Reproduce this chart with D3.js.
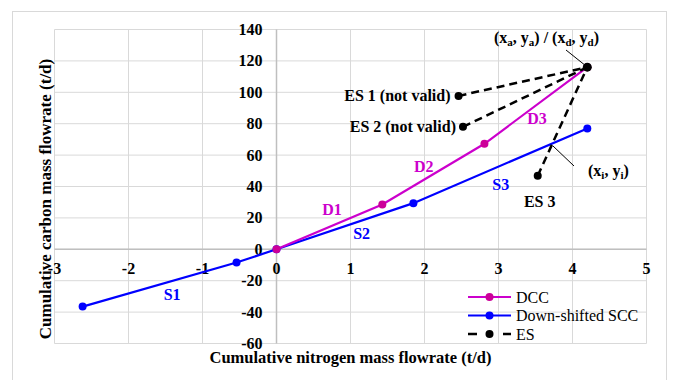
<!DOCTYPE html>
<html>
<head>
  <meta charset="utf-8">
  <title>Cumulative carbon vs nitrogen</title>
  <script src="https://d3js.org/d3.v7.min.js"></script>
  <style>
    body { margin: 0; background: white; }
    text { font-family: "Liberation Serif", "Times New Roman", serif; }
  </style>
</head>
<body>
  <div id="graphContainer"></div>
  <script>
    // data
    var dccX = [0, 1.43, 2.81, 4.2];
    var dccY = [0, 28.6, 67.2, 116];
    var sccX = [-2.62, -0.54, 0, 1.85, 4.2];
    var sccY = [-36.5, -8.4, 0, 29.4, 77];
    var esX = [2.46, 2.52, 3.53];
    var esY = [97.7, 78, 46.8];
    var xTicks = [-3, -2, -1, 0, 1, 2, 3, 4, 5];
    var yTicks = [-60, -40, -20, 0, 20, 40, 60, 80, 100, 120, 140];
    var segLabels = [
      { t: "D1", x: 0.75, y: 22, c: "#cc00cc" },
      { t: "D2", x: 1.99, y: 49.5, c: "#cc00cc" },
      { t: "D3", x: 3.52, y: 79.5, c: "#cc00cc" },
      { t: "S1", x: -1.41, y: -32.5, c: "#0000ff" },
      { t: "S2", x: 1.15, y: 6.5, c: "#0000ff" },
      { t: "S3", x: 3.03, y: 38, c: "#0000ff" }
    ];

    var width = 676, height = 380;
    var pink = "#cc00cc", blue = "#0000ff";

    var svg = d3.select("#graphContainer").append("svg")
      .attr("width", width)
      .attr("height", height);

    // chart border
    svg.append("rect")
      .attr("x", 12.5).attr("y", 11.5)
      .attr("width", 654).attr("height", 380)
      .attr("fill", "white")
      .attr("stroke", "#d9d9d9");

    var x = d3.scaleLinear().domain([-3, 5]).range([54.5, 646.5]);
    var y = d3.scaleLinear().domain([-60, 140]).range([343.5, 29.5]);

    // gridlines
    svg.append("g").selectAll("line").data(xTicks).join("line")
      .attr("x1", d => x(d)).attr("x2", d => x(d))
      .attr("y1", y(140)).attr("y2", y(-60))
      .attr("stroke", "#d9d9d9").attr("stroke-width", 1);
    svg.append("g").selectAll("line").data(yTicks).join("line")
      .attr("x1", x(-3)).attr("x2", x(5))
      .attr("y1", d => y(d)).attr("y2", d => y(d))
      .attr("stroke", "#d9d9d9").attr("stroke-width", 1);

    // zero axes
    svg.append("line")
      .attr("x1", x(0)).attr("x2", x(0)).attr("y1", y(140)).attr("y2", y(-60))
      .attr("stroke", "#bfbfbf").attr("stroke-width", 1.5);
    svg.append("line")
      .attr("x1", x(-3)).attr("x2", x(5)).attr("y1", y(0)).attr("y2", y(0))
      .attr("stroke", "#bfbfbf").attr("stroke-width", 1.5);

    // tick labels
    svg.append("g").selectAll("text").data(xTicks).join("text")
      .attr("x", d => x(d)).attr("y", y(0) + 25)
      .attr("text-anchor", "middle")
      .attr("font-size", 16).attr("font-weight", "bold")
      .text(d => d);
    svg.append("g").selectAll("text").data(yTicks).join("text")
      .attr("x", x(0) - 14).attr("y", d => y(d) + 5.5)
      .attr("text-anchor", "end")
      .attr("font-size", 16).attr("font-weight", "bold")
      .text(d => d);

    // axis titles
    svg.append("text")
      .attr("x", 350.5).attr("y", 363)
      .attr("text-anchor", "middle")
      .attr("font-size", 16.5).attr("font-weight", "bold")
      .text("Cumulative nitrogen mass flowrate (t/d)");
    svg.append("text")
      .attr("transform", "translate(51,199) rotate(-90)")
      .attr("text-anchor", "middle")
      .attr("font-size", 17).attr("font-weight", "bold")
      .text("Cumulative carbon mass flowrate (t/d)");

    var line = d3.line().x(d => x(d[0])).y(d => y(d[1]));
    var dcc = dccX.map((v, i) => [v, dccY[i]]);
    var scc = sccX.map((v, i) => [v, sccY[i]]);

    svg.append("path").attr("d", line(scc))
      .attr("fill", "none").attr("stroke", blue).attr("stroke-width", 2.2);
    svg.append("g").selectAll("circle").data(scc).join("circle")
      .attr("cx", d => x(d[0])).attr("cy", d => y(d[1])).attr("r", 4)
      .attr("fill", blue);

    svg.append("path").attr("d", line(dcc))
      .attr("fill", "none").attr("stroke", pink).attr("stroke-width", 2.2);
    svg.append("g").selectAll("circle").data(dcc).join("circle")
      .attr("cx", d => x(d[0])).attr("cy", d => y(d[1])).attr("r", 4)
      .attr("fill", "#cc0099");

    // ES dashed lines to the end point
    var end = dcc[dcc.length - 1];
    esX.forEach(function (v, i) {
      svg.append("path").attr("d", line([[v, esY[i]], end]))
        .attr("fill", "none").attr("stroke", "black")
        .attr("stroke-width", 2.5).attr("stroke-dasharray", "8,5");
      svg.append("circle")
        .attr("cx", x(v)).attr("cy", y(esY[i])).attr("r", 4)
        .attr("fill", "black");
    });
    svg.append("circle")
      .attr("cx", x(end[0])).attr("cy", y(end[1])).attr("r", 4.5)
      .attr("fill", "black");

    // segment labels
    svg.append("g").selectAll("text").data(segLabels).join("text")
      .attr("x", d => x(d.x)).attr("y", d => y(d.y))
      .attr("text-anchor", "middle")
      .attr("font-size", 16).attr("font-weight", "bold")
      .attr("fill", d => d.c)
      .text(d => d.t);

    // ES labels
    svg.append("text").attr("x", x(esX[0]) - 8).attr("y", y(esY[0]) + 5.5)
      .attr("text-anchor", "end").attr("font-size", 16).attr("font-weight", "bold")
      .text("ES 1 (not valid)");
    svg.append("text").attr("x", x(esX[1]) - 7).attr("y", y(esY[1]) + 5.5)
      .attr("text-anchor", "end").attr("font-size", 16).attr("font-weight", "bold")
      .text("ES 2 (not valid)");
    svg.append("text").attr("x", x(esX[2]) + 2).attr("y", y(esY[2]) + 31)
      .attr("text-anchor", "middle").attr("font-size", 16).attr("font-weight", "bold")
      .text("ES 3");

    // point annotations
    var ann = svg.append("text").attr("x", 494).attr("y", 43)
      .attr("font-size", 16).attr("font-weight", "bold");
    ann.append("tspan").text("(x");
    ann.append("tspan").attr("font-size", 11).attr("dy", 3).text("a");
    ann.append("tspan").attr("dy", -3).text(", y");
    ann.append("tspan").attr("font-size", 11).attr("dy", 3).text("a");
    ann.append("tspan").attr("dy", -3).text(") / (x");
    ann.append("tspan").attr("font-size", 11).attr("dy", 3).text("d");
    ann.append("tspan").attr("dy", -3).text(", y");
    ann.append("tspan").attr("font-size", 11).attr("dy", 3).text("d");
    ann.append("tspan").attr("dy", -3).text(")");
    svg.append("line").attr("x1", 566).attr("y1", 50).attr("x2", 586).attr("y2", 66)
      .attr("stroke", "black").attr("stroke-width", 1);

    var ann2 = svg.append("text").attr("x", 588).attr("y", 176)
      .attr("font-size", 16).attr("font-weight", "bold");
    ann2.append("tspan").text("(x");
    ann2.append("tspan").attr("font-size", 11).attr("dy", 3).text("i");
    ann2.append("tspan").attr("dy", -3).text(", y");
    ann2.append("tspan").attr("font-size", 11).attr("dy", 3).text("i");
    ann2.append("tspan").attr("dy", -3).text(")");
    svg.append("line").attr("x1", 553).attr("y1", 146).attr("x2", 574).attr("y2", 166)
      .attr("stroke", "black").attr("stroke-width", 1);

    // legend
    var legend = [
      { t: "DCC", c: pink, m: "#cc0099", dash: null },
      { t: "Down-shifted SCC", c: blue, m: blue, dash: null },
      { t: "ES", c: "black", m: "black", dash: "9,26" }
    ];
    var lg = svg.append("g").attr("transform", "translate(468,297)");
    legend.forEach(function (d, i) {
      var row = lg.append("g").attr("transform", "translate(0," + (i * 18.5) + ")");
      row.append("line").attr("x1", 0).attr("x2", 43).attr("y1", 0).attr("y2", 0)
        .attr("stroke", d.c).attr("stroke-width", d.dash ? 2.5 : 2.2)
        .attr("stroke-dasharray", d.dash);
      row.append("circle").attr("cx", 21.5).attr("cy", 0).attr("r", 4).attr("fill", d.m);
      row.append("text").attr("x", 48).attr("y", 5.5)
        .attr("font-size", 16).text(d.t);
    });
  </script>
</body>
</html>
